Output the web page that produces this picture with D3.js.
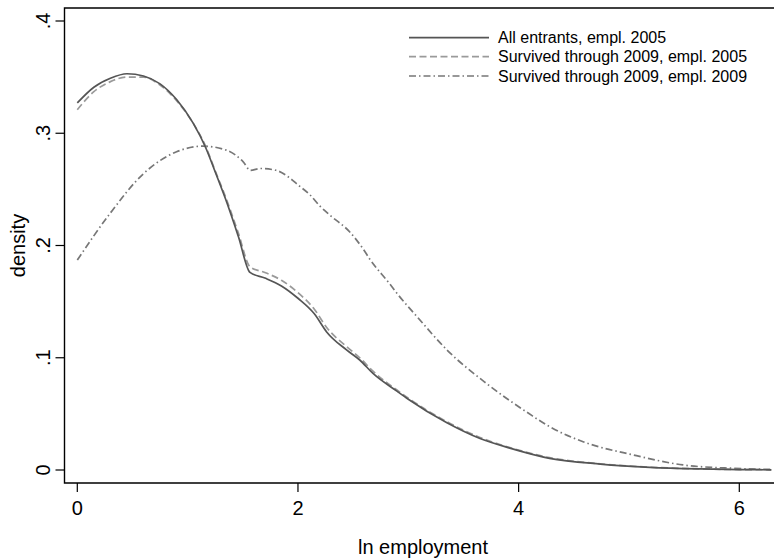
<!DOCTYPE html>
<html>
<head>
<meta charset="utf-8">
<script src="https://cdn.jsdelivr.net/npm/d3@7"></script>
<style>
  body { margin: 0; background: #fff; }
  svg { display: block; font-family: "Liberation Sans", Arial, sans-serif; }
</style>
</head>
<body>
<svg id="chart" width="774" height="559"></svg>
<script>
// ---- data ----
const allX = [0, 0.15, 0.3, 0.45, 0.6, 0.75, 0.9, 1.05, 1.16, 1.26, 1.36, 1.46, 1.565, 1.7, 1.85, 2.0, 2.15, 2.26, 2.44, 2.56, 2.68, 2.9, 3.0, 3.35, 3.65, 3.92, 4.28, 4.74, 5.19, 5.64, 6.0, 6.29];
const allY = [0.327, 0.341, 0.349, 0.353, 0.351, 0.344, 0.330, 0.309, 0.288, 0.263, 0.237, 0.208, 0.176, 0.171, 0.164, 0.153, 0.139, 0.123, 0.107, 0.098, 0.086, 0.070, 0.063, 0.042, 0.028, 0.0195, 0.0104, 0.0053, 0.0024, 0.001, 0.0004, 0.0002];
const surv05X = allX;
const surv05Y = [0.321, 0.337, 0.346, 0.350, 0.350, 0.343, 0.329, 0.309, 0.289, 0.264, 0.239, 0.211, 0.181, 0.176, 0.169, 0.158, 0.143, 0.127, 0.110, 0.100, 0.088, 0.071, 0.064, 0.043, 0.029, 0.020, 0.011, 0.0055, 0.0025, 0.001, 0.0004, 0.0002];
const surv09X = [0, 0.3, 0.6, 0.9, 1.14, 1.35, 1.5, 1.57, 1.66, 1.8, 1.9, 2.0, 2.11, 2.2, 2.29, 2.47, 2.59, 2.65, 2.83, 2.9, 3.08, 3.35, 3.71, 4.09, 4.28, 4.59, 5.04, 5.49, 5.95, 6.29];
const surv09Y = [0.187, 0.229, 0.264, 0.2835, 0.2885, 0.285, 0.275, 0.267, 0.2686, 0.267, 0.262, 0.254, 0.245, 0.235, 0.227, 0.212, 0.197, 0.188, 0.166, 0.157, 0.1365, 0.107, 0.077, 0.0505, 0.0386, 0.025, 0.0134, 0.0045, 0.0015, 0.0005];
const seriesNames = ["All entrants, empl. 2005", "Survived through 2009, empl. 2005", "Survived through 2009, empl. 2009"];
const xTicks = [0, 2, 4, 6];
const xTickLabels = ["0", "2", "4", "6"];
const yTicks = [0, 0.1, 0.2, 0.3, 0.4];
const yTickLabels = ["0", ".1", ".2", ".3", ".4"];

// ---- layout ----
const svg = d3.select("#chart");
const frameL = 64.5, frameT = 8, frameB = 483, frameR = 790;
const x = d3.scaleLinear().domain([0, 6]).range([77.3, 739.3]);
const y = d3.scaleLinear().domain([0, 0.4]).range([470, 21]);

const styles = [
  { color: "#555", dash: null, w: 1.7 },
  { color: "#9a9a9a", dash: "7,3.5", w: 1.7 },
  { color: "#777", dash: "7,3,1.5,3", w: 1.7 }
];

const series = [
  allX.map((v, i) => [v, allY[i]]),
  surv05X.map((v, i) => [v, surv05Y[i]]),
  surv09X.map((v, i) => [v, surv09Y[i]])
];

const line = d3.line().x(d => x(d[0])).y(d => y(d[1])).curve(d3.curveMonotoneX);

// draw order: dash-dot, dashed, solid on top
[2, 1, 0].forEach(i => {
  svg.append("path")
    .attr("d", line(series[i]))
    .attr("fill", "none")
    .attr("stroke", styles[i].color)
    .attr("stroke-width", styles[i].w)
    .attr("stroke-dasharray", styles[i].dash);
});

// frame
svg.append("path")
  .attr("d", `M${frameR},${frameT}H${frameL}V${frameB}H${frameR}`)
  .attr("fill", "none").attr("stroke", "#000").attr("stroke-width", 1.4);

// y ticks
yTicks.forEach((t, i) => {
  svg.append("line").attr("x1", frameL - 9).attr("x2", frameL)
    .attr("y1", y(t)).attr("y2", y(t)).attr("stroke", "#000").attr("stroke-width", 1.2);
  svg.append("text").attr("transform", `translate(50,${y(t)}) rotate(-90)`)
    .attr("text-anchor", "middle").attr("font-size", 20).text(yTickLabels[i]);
});
// x ticks
xTicks.forEach((t, i) => {
  svg.append("line").attr("x1", x(t)).attr("x2", x(t))
    .attr("y1", frameB).attr("y2", frameB + 9).attr("stroke", "#000").attr("stroke-width", 1.2);
  svg.append("text").attr("x", x(t)).attr("y", 515)
    .attr("text-anchor", "middle").attr("font-size", 20).text(xTickLabels[i]);
});

// axis titles
svg.append("text").attr("x", 423).attr("y", 554).attr("text-anchor", "middle")
  .attr("font-size", 20).text("ln employment");
svg.append("text").attr("transform", `translate(25,${(frameT + frameB) / 2}) rotate(-90)`)
  .attr("text-anchor", "middle").attr("font-size", 20).text("density");

// legend
const legY = [37.7, 56.7, 76];
seriesNames.forEach((name, i) => {
  svg.append("line").attr("x1", 409).attr("x2", 489).attr("y1", legY[i]).attr("y2", legY[i])
    .attr("stroke", styles[i].color).attr("stroke-width", styles[i].w)
    .attr("stroke-dasharray", styles[i].dash);
  svg.append("text").attr("x", 498).attr("y", legY[i] + 5.6)
    .attr("font-size", 16).text(name);
});
</script>
</body>
</html>
